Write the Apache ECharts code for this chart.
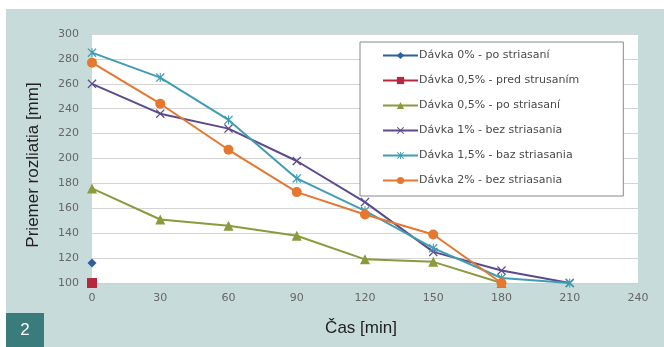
<!DOCTYPE html>
<html>
<head>
<meta charset="utf-8">
<script src="https://cdn.jsdelivr.net/npm/echarts@6/dist/echarts.min.js"></script>
<style>
html,body{margin:0;padding:0;background:#fff;}
#c{width:664px;height:347px;}
</style>
</head>
<body>
<div id="c"></div>
<script>
var xTicks = [0, 30, 60, 90, 120, 150, 180, 210, 240];
var seriesNames = [
  "Dávka 0% - po striasaní",
  "Dávka 0,5% - pred strusaním",
  "Dávka 0,5% - po striasaní",
  "Dávka 1% - bez striasania",
  "Dávka 1,5% - baz striasania",
  "Dávka 2% - bez striasania"
];
var xTitle = "Čas [min]";
var yTitle = "Priemer rozliatia [mm]";
var s0x = [0];                 var s0y = [116];
var s1x = [0];                 var s1y = [100];
var s2x = [0, 30, 60, 90, 120, 150, 180];       var s2y = [176, 151, 146, 138, 119, 117, 100];
var s3x = [0, 30, 60, 90, 120, 150, 180, 210];  var s3y = [260, 236, 224, 198, 165, 125, 110, 100];
var s4x = [0, 30, 60, 90, 120, 150, 180, 210];  var s4y = [285, 265, 231, 184, 158, 128, 104, 100];
var s5x = [0, 30, 60, 90, 120, 150, 180];       var s5y = [277, 244, 207, 173, 155, 139, 100];

function pairs(xs, ys){ return xs.map(function(x,i){ return [x, ys[i]]; }); }

var colors = ['#2f5f9c', '#b8283c', '#8a9a3c', '#5b4a8c', '#3f9db3', '#e5772e'];
var xSym = 'path://M0,1L1,0L5,4L9,0L10,1L6,5L10,9L9,10L5,6L1,10L0,9L4,5Z';
var starSym = 'path://M0,1L1,0L5,4L9,0L10,1L6,5L10,9L9,10L5,6L1,10L0,9L4,5Z M4.4,0L5.6,0L5.6,10L4.4,10Z';
var symbols = ['diamond', 'rect', 'triangle', xSym, starSym, 'circle'];
var sizes = [9, 10, 10, 9, 9, 10];
var datas = [pairs(s0x,s0y), pairs(s1x,s1y), pairs(s2x,s2y), pairs(s3x,s3y), pairs(s4x,s4y), pairs(s5x,s5y)];

var series = datas.map(function(d, i){
  return {
    name: seriesNames[i], type: 'line', data: d,
    symbol: symbols[i], symbolSize: sizes[i],
    lineStyle: {color: colors[i], width: 2},
    itemStyle: {color: colors[i]},
    z: 2 + i
  };
});

var FONT = '"Liberation Sans", Arial, sans-serif';
var TICKFONT = '"DejaVu Sans", sans-serif';

var chart = echarts.init(document.getElementById('c'), null, {renderer: 'canvas'});
chart.setOption({
  animation: false,
  color: colors,
  graphic: [
    {type: 'rect', shape: {x: 6, y: 9, width: 658, height: 338}, style: {fill: '#c8dbdb'}, z: -10, silent: true},
    {type: 'rect', shape: {x: 6, y: 313, width: 38, height: 34}, style: {fill: '#3a7b7b'}, z: 10},
    {type: 'text', x: 25, y: 330, style: {text: '2', fill: '#fff', font: '17px ' + FONT, textAlign: 'center', textVerticalAlign: 'middle'}, z: 11},
    {type: 'text', x: 361, y: 328, style: {text: xTitle, fill: '#222', font: '17px ' + FONT, textAlign: 'center', textVerticalAlign: 'middle'}, z: 11},
    {type: 'text', x: 33, y: 165, rotation: Math.PI / 2, style: {text: yTitle, fill: '#222', font: '17px ' + FONT, textAlign: 'center', textVerticalAlign: 'middle'}, z: 11}
  ],
  grid: {left: 92, right: 26, top: 34, bottom: 64, show: true, backgroundColor: '#ffffff', borderWidth: 0},
  legend: {
    orient: 'vertical', left: 360, top: 42,
    padding: [8, 44, 10, 22],
    itemGap: 14, itemWidth: 35, itemHeight: 9,
    backgroundColor: '#ffffff', borderColor: '#8a8a8a', borderWidth: 1,
    textStyle: {fontFamily: TICKFONT, fontSize: 11, color: '#4a4a4a', padding: [0,0,0,-4]},
    data: seriesNames
  },
  xAxis: {
    type: 'value', min: 0, max: 240, interval: 30,
    axisLine: {show: true, lineStyle: {color: '#cfcfcf'}},
    axisTick: {show: false},
    splitLine: {show: false},
    axisLabel: {margin: 10, fontFamily: TICKFONT, fontSize: 11, color: '#666',
      formatter: function(v){ return xTicks.indexOf(v) >= 0 ? String(v) : ''; }}
  },
  yAxis: {
    type: 'value', min: 100, max: 300, interval: 20,
    axisLine: {show: false},
    axisTick: {show: false},
    splitLine: {show: true, lineStyle: {color: '#d4d4d4', width: 1}},
    axisLabel: {margin: 13, fontFamily: TICKFONT, fontSize: 11, color: '#666'}
  },
  series: series
});
</script>
</body>
</html>
